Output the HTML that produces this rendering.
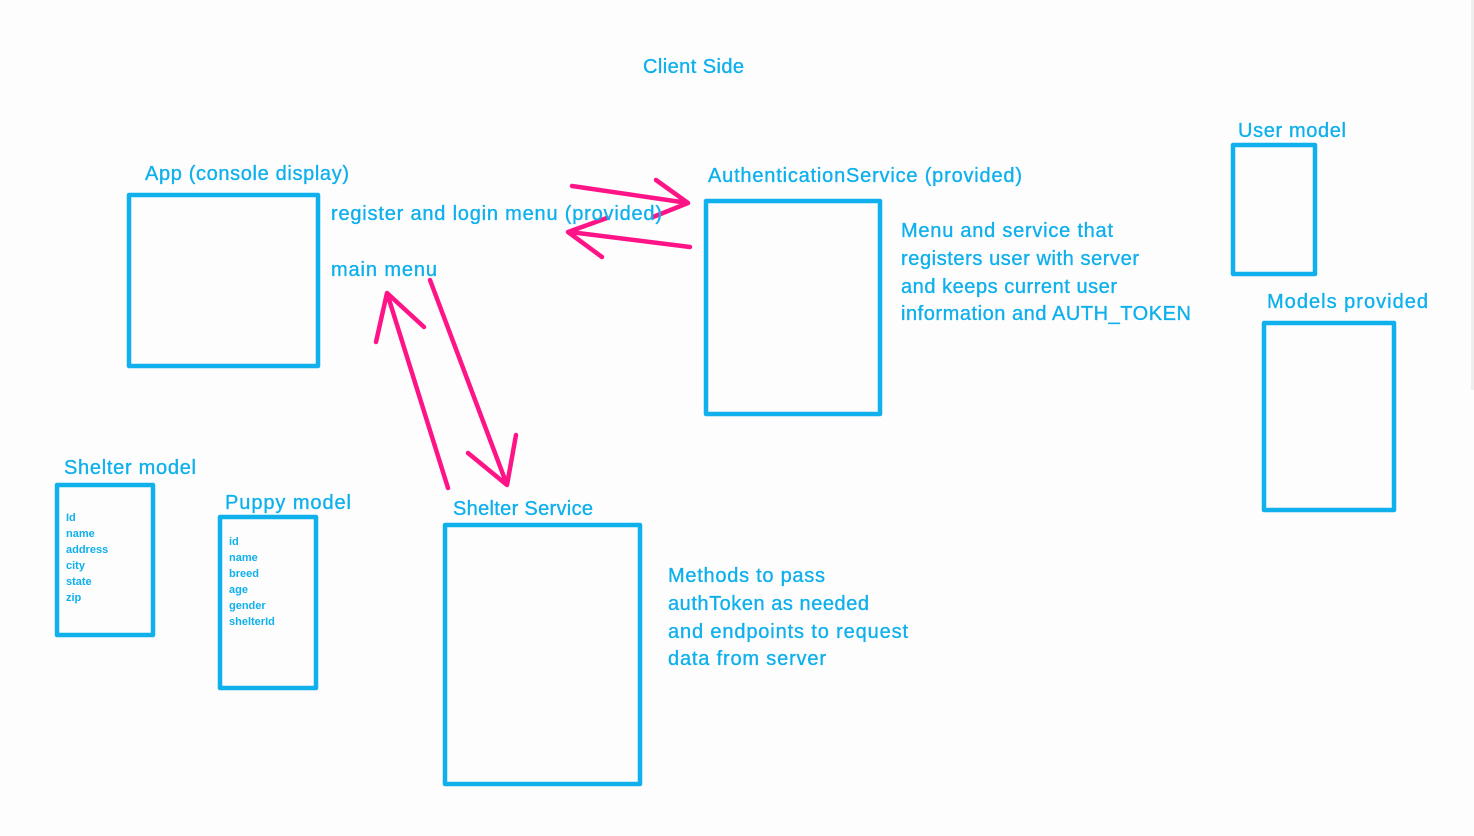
<!DOCTYPE html>
<html><head><meta charset="utf-8"><style>
html,body{margin:0;padding:0;background:#fdfdfd;}
svg{display:block;}
text{font-family:"Liberation Sans",sans-serif;fill:#0fb0ec;}
.l{font-size:20px;stroke:#0fb0ec;stroke-width:0.35;}
.s{font-size:11px;font-weight:bold;}
</style></head><body>
<svg width="1474" height="836" viewBox="0 0 1474 836">
<rect x="1471" y="0" width="3" height="390" fill="#eeeeee"/>
<g fill="none" stroke="#0fb0ec" stroke-width="4.5" stroke-linejoin="round">
<rect x="129" y="195" width="189" height="171"/>
<rect x="706" y="201" width="174" height="213"/>
<rect x="1233" y="145" width="82" height="129"/>
<rect x="1264" y="323" width="130" height="187"/>
<rect x="57" y="485" width="96" height="150"/>
<rect x="220" y="517" width="96" height="171"/>
<rect x="445" y="525" width="195" height="259"/>
</g>
<g fill="none" stroke="#ff1487" stroke-width="4.5" stroke-linecap="round" stroke-linejoin="round">
<path d="M572 186 L688 203 M656 180 L688 203 L653 217"/>
<path d="M690 247 L570 232 M607 218 L568 232 L602 257"/>
<path d="M448 488 L387 293 M376 342 L387 293 L424 327"/>
<path d="M430 280 L507 485 M468 453 L507 485 L516 435"/>
</g>
<text class="l" x="643" y="73" textLength="101">Client Side</text>
<text class="l" x="145" y="180" textLength="204">App (console display)</text>
<text class="l" x="331" y="220" textLength="331">register and login menu (provided)</text>
<text class="l" x="331" y="276" textLength="106">main menu</text>
<text class="l" x="708" y="182" textLength="314">AuthenticationService (provided)</text>
<text class="l" x="901" y="237" textLength="212">Menu and service that</text>
<text class="l" x="901" y="265" textLength="238">registers user with server</text>
<text class="l" x="901" y="293" textLength="216">and keeps current user</text>
<text class="l" x="901" y="320" textLength="290">information and AUTH_TOKEN</text>
<text class="l" x="1238" y="137" textLength="108">User model</text>
<text class="l" x="1267" y="308" textLength="161">Models provided</text>
<text class="l" x="64" y="474" textLength="132">Shelter model</text>
<text class="l" x="225" y="509" textLength="126">Puppy model</text>
<text class="l" x="453" y="515" textLength="140">Shelter Service</text>
<text class="l" x="668" y="582" textLength="157">Methods to pass</text>
<text class="l" x="668" y="610" textLength="201">authToken as needed</text>
<text class="l" x="668" y="638" textLength="240">and endpoints to request</text>
<text class="l" x="668" y="665" textLength="158">data from server</text>
<text class="s" x="66" y="521">Id</text>
<text class="s" x="66" y="537">name</text>
<text class="s" x="66" y="553">address</text>
<text class="s" x="66" y="569">city</text>
<text class="s" x="66" y="585">state</text>
<text class="s" x="66" y="601">zip</text>
<text class="s" x="229" y="545">id</text>
<text class="s" x="229" y="561">name</text>
<text class="s" x="229" y="577">breed</text>
<text class="s" x="229" y="593">age</text>
<text class="s" x="229" y="609">gender</text>
<text class="s" x="229" y="625">shelterId</text>
</svg>
</body></html>
